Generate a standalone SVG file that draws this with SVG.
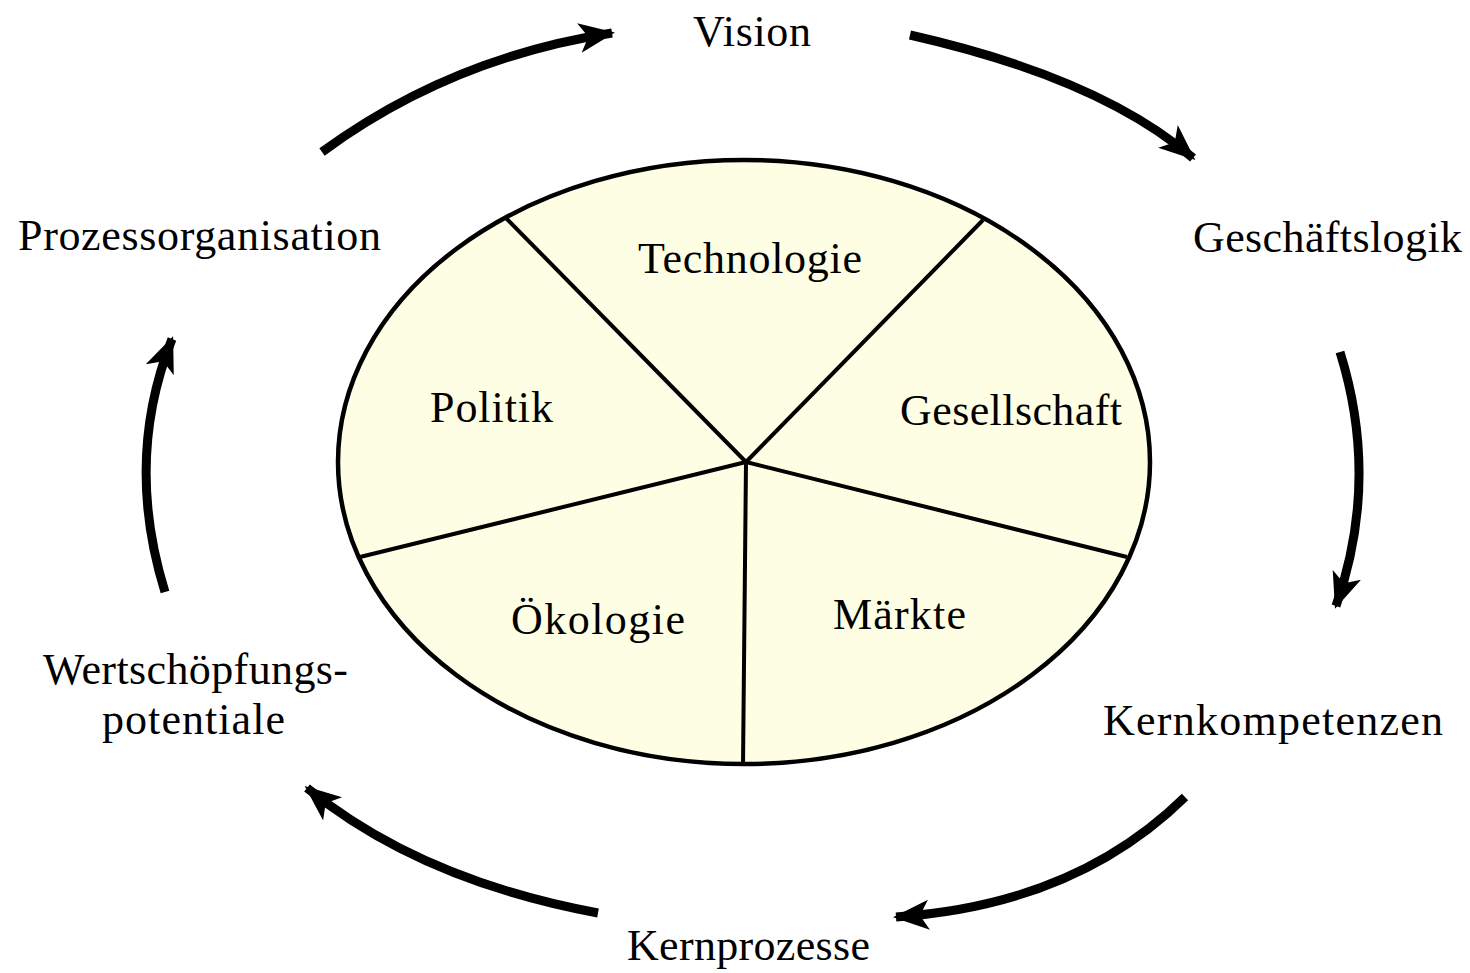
<svg xmlns="http://www.w3.org/2000/svg" width="1470" height="973" viewBox="0 0 1470 973">
<style>
text{font-family:"Liberation Serif","Times New Roman",serif;font-size:44px;fill:#000}
.spoke{stroke:#000;stroke-width:4;fill:none}
.arr{stroke:#000;stroke-width:9;fill:none;marker-end:url(#ah)}
</style>
<defs>
<marker id="ah" markerUnits="userSpaceOnUse" markerWidth="40" markerHeight="34" refX="33" refY="15" orient="auto">
<path d="M0,0 L36,15 L0,30 L9,15 z" fill="#000"/>
</marker>
</defs>
<rect width="1470" height="973" fill="#fff"/>
<g id="pie">
<ellipse cx="744" cy="462" rx="406" ry="302" fill="#FEFEE4" stroke="#000" stroke-width="4.5"/>
<line class="spoke" x1="746" y1="462" x2="505" y2="217"/>
<line class="spoke" x1="746" y1="462" x2="983" y2="220"/>
<line class="spoke" x1="746" y1="462" x2="360" y2="557"/>
<line class="spoke" x1="746" y1="462" x2="1127" y2="557"/>
<line class="spoke" x1="746" y1="462" x2="743" y2="766"/>
</g>
<g id="seg-technologie"><text x="638" y="273" textLength="224">Technologie</text></g>
<g id="seg-politik"><text x="430" y="422" textLength="123">Politik</text></g>
<g id="seg-gesellschaft"><text x="900" y="425" textLength="222">Gesellschaft</text></g>
<g id="seg-oekologie"><text x="511" y="634" textLength="174">Ökologie</text></g>
<g id="seg-maerkte"><text x="833" y="629" textLength="133">Märkte</text></g>
<g id="n-vision"><text x="693" y="46" textLength="118">Vision</text></g>
<g id="n-geschaeftslogik"><text x="1193" y="252" textLength="269">Geschäftslogik</text></g>
<g id="n-kernkompetenzen"><text x="1103" y="735" textLength="340">Kernkompetenzen</text></g>
<g id="n-kernprozesse"><text x="627" y="960" textLength="243">Kernprozesse</text></g>
<g id="n-wertschoepfung"><text x="43" y="684" textLength="305">Wertschöpfungs-</text><text x="102" y="734" textLength="183">potentiale</text></g>
<g id="n-prozessorganisation"><text x="18" y="250" textLength="363">Prozessorganisation</text></g>
<g id="connectors">
<path class="arr" d="M322,152 Q450,58 612,33"/>
<path class="arr" d="M910,35 Q1100,78 1193,158"/>
<path class="arr" d="M1340,352 Q1380,480 1336,606"/>
<path class="arr" d="M1185,797 Q1075,905 896,917"/>
<path class="arr" d="M598,913 Q420,880 307,788"/>
<path class="arr" d="M165,592 Q124,460 172,339"/>
</g>
</svg>
